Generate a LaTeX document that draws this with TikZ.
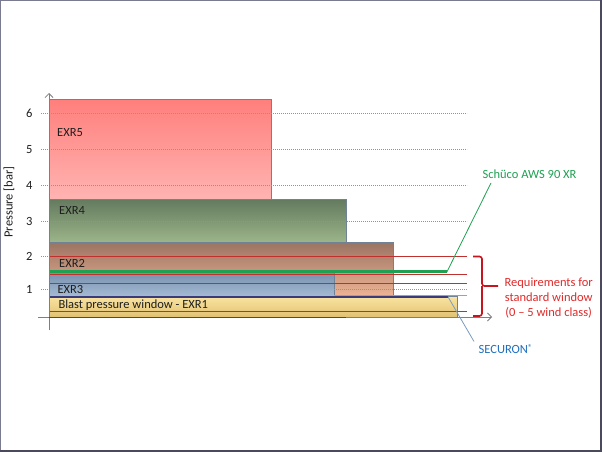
\documentclass[tikz,border=0pt]{standalone}
\usepackage{fontspec}
\setmainfont{Carlito}
\usetikzlibrary{arrows.meta}
\definecolor{barEdge}{HTML}{6F8296}
\definecolor{gridc}{HTML}{8494B2}
\definecolor{reqred}{HTML}{C0302E}
\definecolor{reqpink}{HTML}{D88A8A}
\definecolor{txtred}{HTML}{E02A2A}
\definecolor{bracered}{HTML}{C8141E}
\definecolor{greenc}{HTML}{1FA052}
\definecolor{securon}{HTML}{1F6FBF}
\definecolor{seculine}{HTML}{7A9CC0}
\definecolor{axisc}{HTML}{7F7F7F}
\definecolor{txt}{HTML}{1E1E1E}
\definecolor{frameL}{HTML}{7A7A90}
\definecolor{frameD}{HTML}{4A4A5A}
\begin{document}
\begin{tikzpicture}[x=1pt,y=-1pt,
  bar/.style={draw=barEdge, line width=0.8pt},
  lbl/.style={font=\fontsize{12.5}{14.5}\selectfont, inner sep=0pt, text=txt},
  gridl/.style={draw=gridc, dash pattern=on 1.2pt off 0.8pt, line width=0.6pt},
  reqline/.style={draw=reqred, line width=0.9pt},
  axisl/.style={draw=axisc, line width=0.8pt},
  tip/.style={-{Straight Barb[length=4pt,width=8pt]}}]
% frame and bounding box
\useasboundingbox (0,0) rectangle (602,452);
\fill[white] (0,0) rectangle (602,452);
\draw[frameL, line width=1pt] (0.5,451) -- (0.5,0.5) -- (601,0.5);
\draw[frameD, line width=2pt] (601,0) -- (601,451) -- (0,451);
% bars
\path[bar, top color={rgb,255:red,255;green,127;blue,124}, bottom color={rgb,255:red,255;green,180;blue,178}] (49,99.3) rectangle (271,199);
\path[bar, top color={rgb,255:red,99;green,122;blue,94}, bottom color={rgb,255:red,157;green,181;blue,138}] (49,199) rectangle (346,242.5);
\path[bar, top color={rgb,255:red,155;green,116;blue,99}, bottom color={rgb,255:red,239;green,180;blue,149}] (49,242.5) rectangle (393.7,296.8);
\path[bar, top color={rgb,255:red,120;green,144;blue,174}, bottom color={rgb,255:red,166;green,188;blue,213}] (49,272.5) rectangle (334,296.8);
\path[bar, top color={rgb,255:red,249;green,227;blue,160}, bottom color={rgb,255:red,226;green,194;blue,115}] (49,296.8) rectangle (457.7,317);
% grid lines
\foreach \yy in {113.3,149.3,185.3,221.3}{\draw[gridl] (41,\yy) -- (467,\yy);}
\draw[gridl] (41,256.3) -- (49,256.3);
\draw[gridl] (41,289) -- (49,289);
\draw[gridl] (334,289) -- (467,289);
% requirement lines
\foreach \yy in {256.3,274,283.3,311}{\draw[reqline] (49,\yy) -- (467,\yy);}
\draw[draw=reqpink, line width=0.9pt] (334,295.3) -- (467,295.3);
% Schueco line
\coordinate (gEnd) at (447,271.7);
\draw[greenc, line width=2.6pt] (49,271.7) -- (gEnd);
% SECURON line
\coordinate (sEnd) at (448,296.8);
\draw[frameD!80!blue, line width=1.5pt] (49,296.8) -- (sEnd);
% axes
\coordinate (ybot) at (49,330);
\coordinate (ytop) at (49,93);
\coordinate (xleft) at (38,317);
\coordinate (xright) at (492,317);
\draw[axisl, tip] (ybot) -- (ytop);
\draw[axisl, tip] (xleft) -- (xright);
\draw[frameD, line width=1pt] (49,317) -- (346,317);
% tick labels
\node[lbl] (t6) at (29.3,113.3) {6};
\node[lbl] (t5) at (29.3,149.3) {5};
\node[lbl] (t4) at (29.3,185.3) {4};
\node[lbl] (t3) at (29.3,221.3) {3};
\node[lbl] (t2) at (29.3,256.3) {2};
\node[lbl] (t1) at (29.3,289) {1};
\node[lbl, rotate=90] (ylab) at (9,202) {Pressure [bar]};
% bar labels
\node[lbl, anchor=west] (exr5) at (57,133) {EXR5};
\node[lbl, anchor=west] (exr4) at (59,210) {EXR4};
\node[lbl, anchor=west] (exr2) at (59,263.5) {EXR2};
\node[lbl, anchor=west] (exr3) at (57.3,289) {EXR3};
\node[lbl, anchor=west] (exr1) at (58.3,305.5) {Blast pressure window - EXR1};
% Schueco label
\node[lbl, text=greenc] (schueco) at (529.5,174) {Schüco AWS 90 XR};
\coordinate (gTop) at (491,183);
\draw[greenc, line width=0.8pt] (gEnd) -- (gTop);
% SECURON label
\node[lbl, text=securon] (secu) at (505.5,349) {SECURON\raisebox{3.2pt}{\fontsize{8.5}{8.5}\selectfont ®}};
\coordinate (sBot) at (474,341.5);
\draw[seculine, line width=0.8pt] (sEnd) -- (sBot);
% brace
\coordinate (bTop) at (473,256.5);
\coordinate (bMid) at (498,286);
\coordinate (bBot) at (473,316);
\draw[bracered, line width=1.6pt, rounded corners=2.5pt] (bTop) -| (482,286) -- (bMid);
\draw[bracered, line width=1.6pt, rounded corners=2.5pt] (bBot) -| (482,286);
\node[lbl, text=txtred, align=center, font=\fontsize{12.5}{15.2}\selectfont] (req) at (548.7,298) {Requirements for\\standard window\\(0 – 5 wind class)};
\end{tikzpicture}
\end{document}
